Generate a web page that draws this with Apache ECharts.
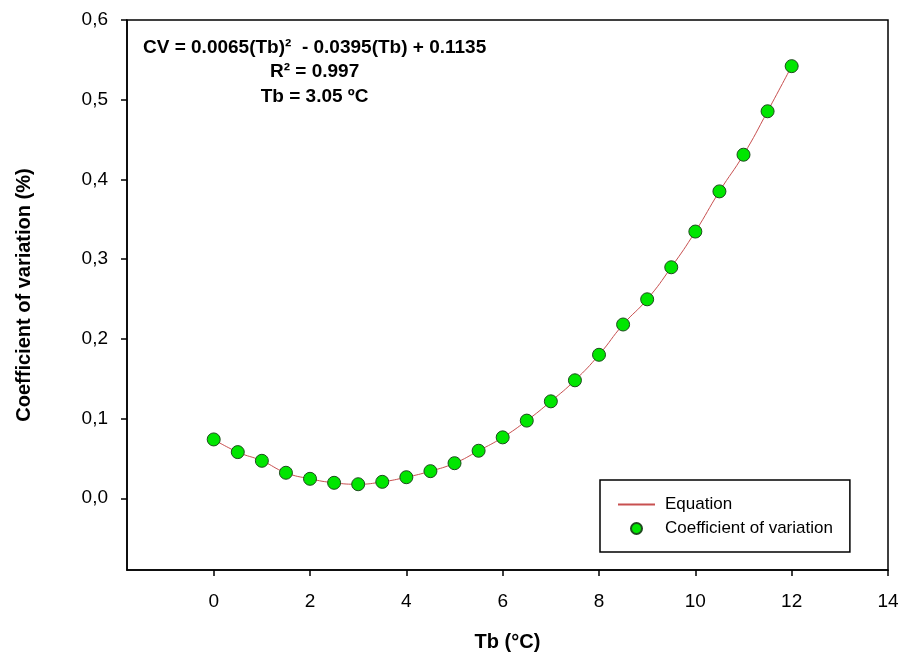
<!DOCTYPE html>
<html>
<head>
<meta charset="utf-8">
<script src="https://cdn.jsdelivr.net/npm/echarts@6/dist/echarts.min.js"></script>
<style>
html, body { margin: 0; padding: 0; background: #fff; }
#chart { width: 901px; height: 654px; }
</style>
</head>
<body>
<div id="chart"></div>
<script>
// temperatura base (x) e coeficiente de variacao
var tbValues = [0, 0.5, 1, 1.5, 2, 2.5, 3, 3.5, 4, 4.5, 5, 5.5, 6, 6.5, 7, 7.5, 8, 8.5, 9, 9.5, 10, 10.5, 11, 11.5, 12];
var cvValues = [0.0738, 0.0579, 0.047, 0.032, 0.0244, 0.0194, 0.0176, 0.0206, 0.0264, 0.034, 0.044, 0.0596, 0.0764, 0.0974, 0.1216, 0.148, 0.180, 0.218, 0.2496, 0.2898, 0.3346, 0.385, 0.431, 0.4855, 0.5421];
var xTicks = [0, 2, 4, 6, 8, 10, 12, 14];
var yTicks = [0, 0.1, 0.2, 0.3, 0.4, 0.5, 0.6];
var eqLines = ['CV = 0.0065(Tb)\u00b2  - 0.0395(Tb) + 0.1135', 'R\u00b2 = 0.997', 'Tb = 3.05 \u00baC'];

var fontName = '"Liberation Sans", Arial, sans-serif';

var pts = [];
for (var i = 0; i < tbValues.length; i++) {
    pts.push([tbValues[i], cvValues[i]]);
}

var myChart = echarts.init(document.getElementById('chart'));

var textEls = [];
for (var k = 0; k < eqLines.length; k++) {
    textEls.push({
        type: 'text',
        x: 178,
        y: k * 24.5,
        style: {
            text: eqLines[k],
            fontFamily: fontName,
            fontSize: 19,
            fontWeight: 'bold',
            fill: '#000',
            align: 'center'
        }
    });
}

var option = {
    backgroundColor: '#fff',
    animation: false,
    textStyle: { fontFamily: fontName },
    grid: {
        left: 127,
        right: 13,
        top: 20,
        bottom: 84,
        outerBoundsMode: 'none',
        show: true,
        borderColor: '#000',
        borderWidth: 1.5
    },
    legend: {
        orient: 'vertical',
        left: 600,
        top: 480,
        padding: [16, 17, 15, 17],
        itemGap: 7,
        itemWidth: 37,
        itemHeight: 11,
        borderColor: '#000',
        borderWidth: 1.5,
        textStyle: { fontSize: 17, color: '#000', fontFamily: fontName, padding: [0, 0, 0, 5] },
        data: [
            { name: 'Equation', itemStyle: { opacity: 0 } },
            'Coefficient of variation'
        ]
    },
    graphic: [{
        type: 'group',
        left: 143,
        top: 38,
        children: textEls
    }],
    xAxis: {
        type: 'value',
        min: -1.8,
        max: 14,
        name: 'Tb (\u00b0C)',
        nameLocation: 'middle',
        nameGap: 62,
        nameTextStyle: { fontSize: 20, fontWeight: 'bold', color: '#000' },
        axisLine: { onZero: false, lineStyle: { color: '#000', width: 1.5 } },
        axisTick: { show: true, length: 6, lineStyle: { color: '#000', width: 1.5 }, customValues: xTicks },
        axisLabel: { fontSize: 19, color: '#000', margin: 22, customValues: xTicks },
        splitLine: { show: false }
    },
    yAxis: {
        type: 'value',
        min: -0.09,
        max: 0.6,
        name: 'Coefficient of variation (%)',
        nameLocation: 'middle',
        nameGap: 93,
        nameTextStyle: { fontSize: 20, fontWeight: 'bold', color: '#000' },
        axisLine: { show: true, onZero: false, lineStyle: { color: '#000', width: 1.5 } },
        axisTick: { show: true, length: 6, lineStyle: { color: '#000', width: 1.5 }, customValues: yTicks },
        axisLabel: {
            fontSize: 19,
            color: '#000',
            margin: 19,
            customValues: yTicks,
            formatter: function (v) { return v.toFixed(1).replace('.', ','); }
        },
        splitLine: { show: false }
    },
    series: [
        {
            name: 'Equation',
            type: 'line',
            data: pts,
            smooth: true,
            symbol: 'none',
            lineStyle: { color: '#c85050', width: 1 },
            itemStyle: { color: '#c85050' },
            z: 2
        },
        {
            name: 'Coefficient of variation',
            type: 'scatter',
            data: pts,
            symbolSize: 13,
            itemStyle: { color: '#00e600', borderColor: '#1e4a1e', borderWidth: 1, opacity: 1 },
            z: 3
        }
    ]
};
myChart.setOption(option);
</script>
</body>
</html>
